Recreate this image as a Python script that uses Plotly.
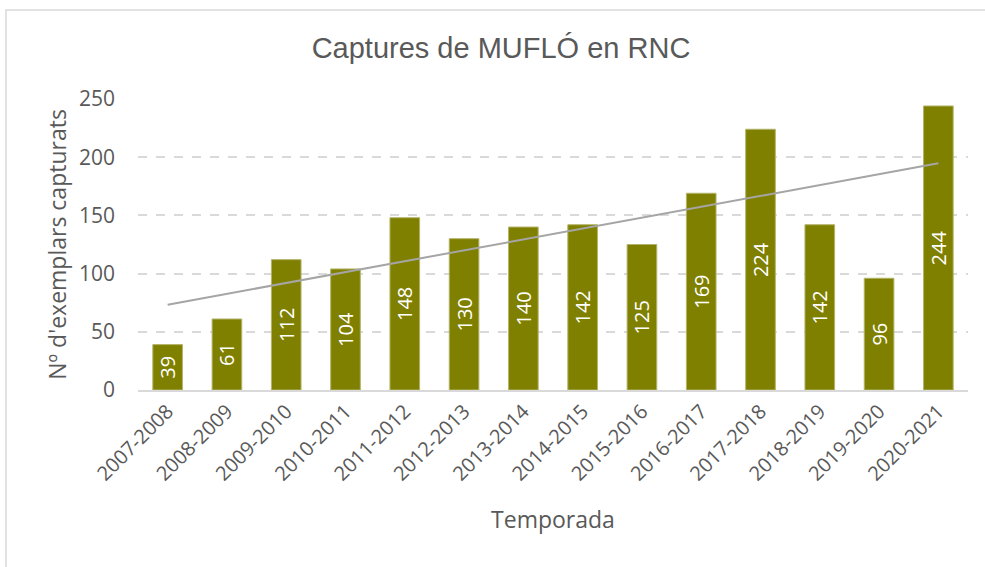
import numpy as np
import plotly.graph_objects as go

temporades = ["2007-2008", "2008-2009", "2009-2010", "2010-2011", "2011-2012",
              "2012-2013", "2013-2014", "2014-2015", "2015-2016", "2016-2017",
              "2017-2018", "2018-2019", "2019-2020", "2020-2021"]
captures = [39, 61, 112, 104, 148, 130, 140, 142, 125, 169, 224, 142, 96, 244]
y_ticks = [0, 50, 100, 150, 200, 250]

# linear trendline (least squares, as in Excel)
xi = np.arange(1, len(captures) + 1)
slope, intercept = np.polyfit(xi, captures, 1)
trend = slope * xi + intercept

W, H = 985, 567
ML, MR, MT, MB = 138, 17, 99, 177
pw, ph = W - ML - MR, H - MT - MB

fig = go.Figure()
fig.add_trace(go.Bar(
    x=temporades, y=captures,
    marker=dict(color="#808000", line=dict(color="#b3b36b", width=1)),
    text=[str(v) for v in captures],
    textposition="inside", insidetextanchor="middle",
    textangle=-90, constraintext="none",
    textfont=dict(family="Open Sans", size=20, color="white"),
    hoverinfo="x+y", showlegend=False,
))
fig.add_trace(go.Scatter(
    x=temporades, y=trend, mode="lines",
    line=dict(color="#a5a5a5", width=2),
    hoverinfo="skip", showlegend=False,
))

fig.update_layout(
    width=W, height=H,
    margin=dict(l=ML, r=MR, t=MT, b=MB, autoexpand=False),
    paper_bgcolor="white", plot_bgcolor="white",
    bargap=0.5,
    title=dict(text="Captures de MUFLÓ en RNC", x=501 / W, xref="container",
               y=1 - 48 / H, yref="container", xanchor="center", yanchor="middle",
               font=dict(family="Liberation Sans", size=29, color="#595959")),
    xaxis=dict(
        type="category", tickangle=-45,
        tickfont=dict(family="Open Sans", size=20, color="#595959"),
        showgrid=False, showline=True, linecolor="#d9d9d9", linewidth=1.5,
        ticks="", range=[-0.5, len(temporades) - 0.5],
        title=dict(text="Temporada", standoff=27,
                   font=dict(family="Open Sans", size=23, color="#595959")),
    ),
    yaxis=dict(
        range=[0, 250], tickvals=y_ticks,
        tickfont=dict(family="Open Sans", size=21, color="#595959"),
        showgrid=True, gridcolor="#d9d9d9", gridwidth=1.5, griddash="dash",
        zeroline=False, showline=False, ticks="", ticklabelstandoff=22,
        title=dict(text="Nº d'exemplars capturats", standoff=5,
                   font=dict(family="Open Sans", size=23, color="#595959")),
    ),
    shapes=[dict(type="rect", xref="paper", yref="paper",
                 x0=(6 - ML) / pw, x1=(W + 5 - ML) / pw,
                 y0=(H - MB - (H + 5)) / ph, y1=(H - MB - 10) / ph,
                 line=dict(color="#d9d9d9", width=1.5), fillcolor="rgba(0,0,0,0)",
                 layer="below")],
)

fig.write_html("out.html", config={"displayModeBar": False},
               post_script="document.body.style.margin='0';")
